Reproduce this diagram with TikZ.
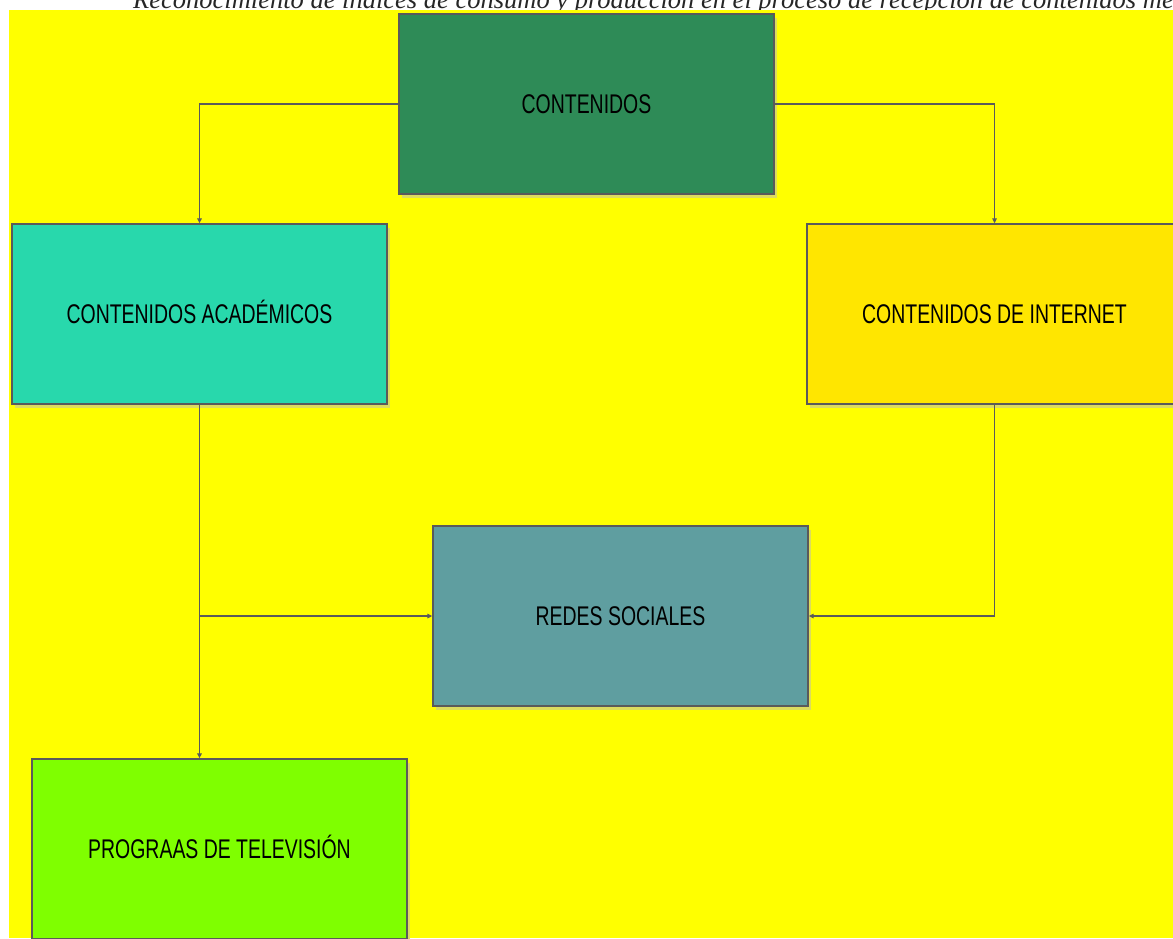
\documentclass[tikz,border=0pt]{standalone}
\usepackage{fontspec}
\setmainfont{Liberation Serif}
\newfontfamily\boxfont[FakeStretch=0.72]{Liberation Sans}
\usetikzlibrary{arrows.meta,shadows}

\definecolor{bgyellow}{RGB}{255,255,0}
\definecolor{edgegray}{RGB}{90,90,90}
\definecolor{shadowolive}{RGB}{220,220,95}
\definecolor{seagreen}{RGB}{46,139,87}
\definecolor{turquesa}{RGB}{40,216,172}
\definecolor{amarillo}{RGB}{255,230,0}
\definecolor{cadete}{RGB}{95,158,160}
\definecolor{lima}{RGB}{127,255,0}

\tikzset{
  box/.style={draw=edgegray, line width=1.3pt, rectangle,
    minimum width=375pt, minimum height=180pt, inner sep=0pt,
    text height=19.5pt, text depth=0pt,
    font=\boxfont\fontsize{27}{30}\selectfont,
    drop shadow={shadow xshift=3pt, shadow yshift=-4pt,
      fill=shadowolive, draw=none, opacity=1}},
  link/.style={draw=edgegray, line width=1.3pt,
    -{Triangle[length=5pt,width=4.5pt]}}
}

\begin{document}
\begin{tikzpicture}[x=1pt,y=-1pt]
  \useasboundingbox (0,0) rectangle (1173,938);
  \clip (0,0) rectangle (1173,938);
  \fill[white] (0,0) rectangle (1173,938);

  % caption line above the chart
  \node[anchor=base west, inner sep=0pt, text=black!85,
        font=\itshape\fontsize{26.5}{30}\selectfont] (caption) at (133,8)
    {Reconocimiento de índices de consumo y producción en el proceso de recepción de contenidos mediáticos};

  % chart area
  \fill[bgyellow] (9,10) rectangle (1173,938);

  \node[box, fill=seagreen] (cont)  at (586.5,104) {CONTENIDOS};
  \node[box, fill=turquesa] (acad)  at (199.5,314) {CONTENIDOS ACADÉMICOS};
  \node[box, fill=amarillo] (inter) at (994.5,314) {CONTENIDOS DE INTERNET};
  \node[box, fill=cadete]   (redes) at (620.5,616) {REDES SOCIALES};
  \node[box, fill=lima]     (prog)  at (219.5,849) {PROGRAAS DE TELEVISIÓN};

  \draw[link] (cont.west) -| (acad.north);
  \draw[link] (cont.east) -| (inter.north);
  \draw[link] (acad.south) -- (acad.south |- prog.north);
  \draw[link] (acad.south |- redes.west) -- (redes.west);
  \draw[link] (inter.south) |- (redes.east);
\end{tikzpicture}
\end{document}
